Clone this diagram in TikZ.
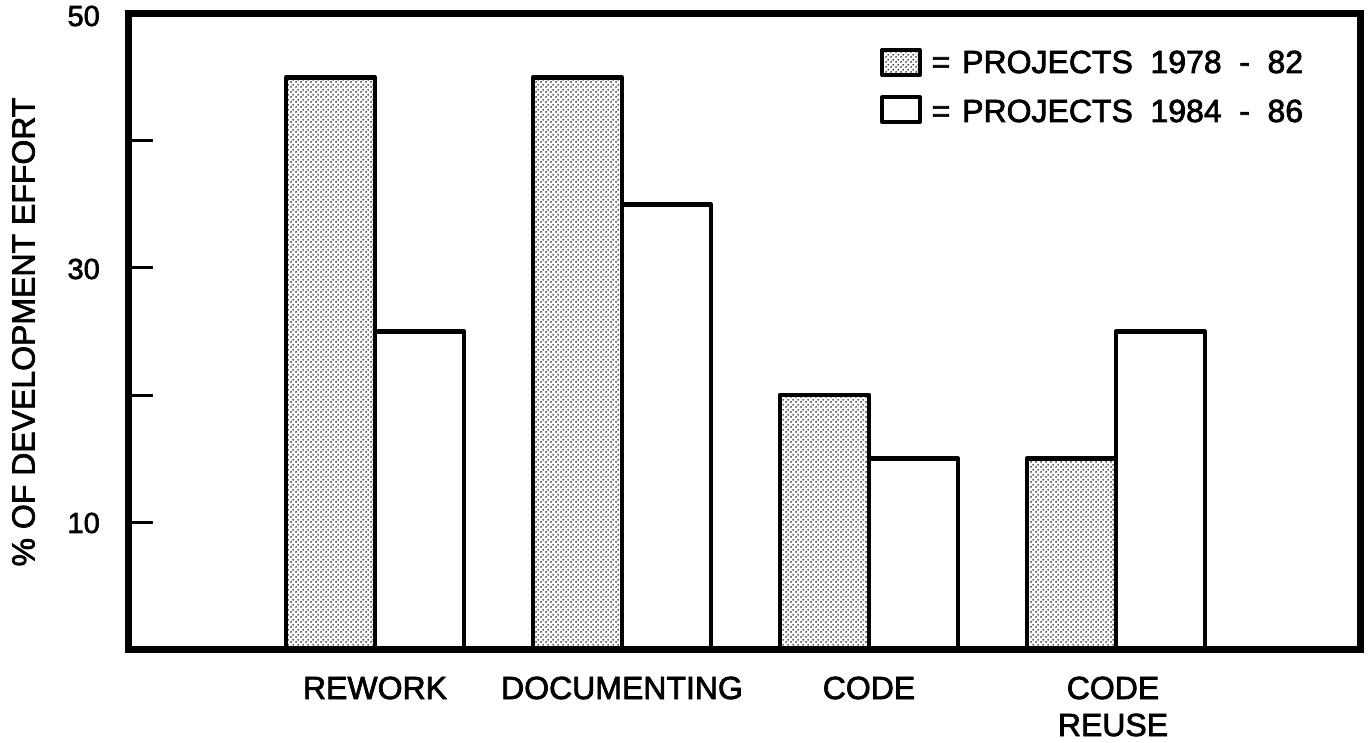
\documentclass[tikz,border=0pt]{standalone}
\usepackage{fontspec}
\setmainfont[FakeBold=2.2]{Liberation Sans}
\usetikzlibrary{patterns}

% halftone stipple used for the 1978-82 bars
\pgfdeclarepatternformonly{halftone}{\pgfqpoint{0pt}{0pt}}{\pgfqpoint{5pt}{5pt}}{\pgfqpoint{5pt}{5pt}}{%
  \pgfpathcircle{\pgfqpoint{1.25pt}{1.25pt}}{1.1pt}%
  \pgfpathcircle{\pgfqpoint{3.75pt}{3.75pt}}{1.1pt}%
  \pgfusepath{fill}}

\tikzset{
  frame/.style={line width=7pt, line join=miter},
  bar/.style={line width=4.5pt, line join=round},
  oldbar/.style={bar, pattern=halftone, pattern color=black!85},
  newbar/.style={bar, fill=white},
  tick/.style={line width=3pt},
  lbl/.style={font=\fontsize{32}{39}\selectfont, inner sep=0pt},
  ticklbl/.style={font=\fontsize{29}{34}\selectfont, inner sep=0pt, anchor=east},
}

% value (percent) to vertical position
\newcommand{\vy}[1]{649-12.7*#1}
% word gap used in the legend entries
\newcommand{\wgap}{\hspace{0.55em}}

\begin{document}
\begin{tikzpicture}[x=1pt, y=-1pt]
  \useasboundingbox (0,0) rectangle (1368,743);

  % bars: old projects (stippled) and new projects (white), per category
  \foreach \cx/\old/\new in {375/45/25, 622/45/35, 869/20/15, 1116/15/25} {
    \draw[oldbar] (\cx-89,649) rectangle (\cx,{\vy{\old}});
    \draw[newbar] (\cx,649) rectangle (\cx+89,{\vy{\new}});
  }

  % plot frame
  \draw[frame] (128,14) rectangle (1360,649);

  % ticks on the value axis
  \foreach \v in {10,20,30,40}
    \draw[tick] (128,{\vy{\v}}) -- (153,{\vy{\v}});

  % tick labels
  \node[ticklbl] (t50) at (100,16) {50};
  \node[ticklbl] (t30) at (100,{\vy{30}+1}) {30};
  \node[ticklbl] (t10) at (100,{\vy{10}+1}) {10};

  % axis title
  \node[lbl, rotate=90] (ytitle) at (23.5,332) {\% OF DEVELOPMENT EFFORT};

  % category labels
  \node[lbl, anchor=base] (crework) at (375,699) {REWORK};
  \node[lbl, anchor=base] (cdoc) at (622,699) {DOCUMENTING};
  \node[lbl, anchor=base] (ccode) at (869,699) {CODE};
  \node[lbl, anchor=base] (creuse) at (1113,699) {CODE};
  \node[lbl, anchor=base] (creuse2) at (1113,736) {REUSE};

  % legend
  \draw[oldbar, line width=4pt] (882,50) rectangle (920,75);
  \draw[newbar, line width=4pt] (882,97) rectangle (920,122);
  \node[lbl, anchor=base] (eq1) at (941,73) {=};
  \node[lbl, anchor=base] (eq2) at (941,122) {=};
  \node[lbl, anchor=base west] (leg1) at (962,73)
    {PROJECTS\wgap 1978\wgap -\wgap 82};
  \node[lbl, anchor=base west] (leg2) at (962,122)
    {PROJECTS\wgap 1984\wgap -\wgap 86};
\end{tikzpicture}
\end{document}
